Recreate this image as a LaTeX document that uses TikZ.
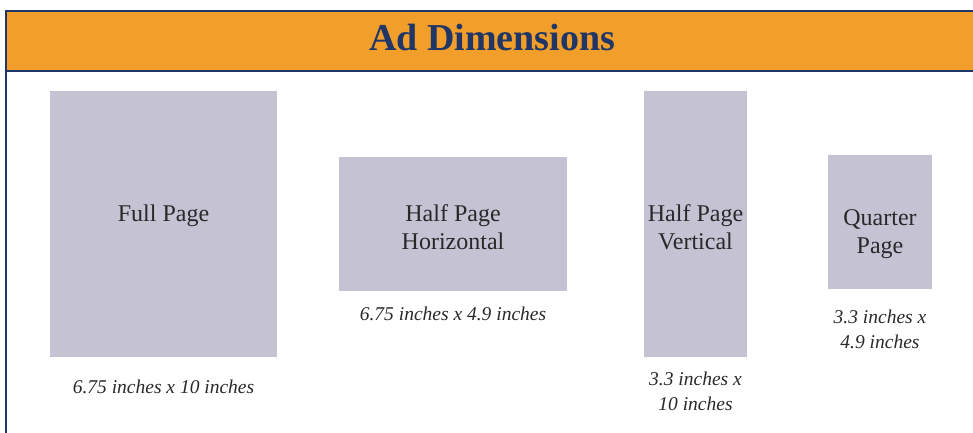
\documentclass[tikz,border=0pt]{standalone}
\usepackage{fontspec}
\setmainfont{Liberation Serif}
\usetikzlibrary{positioning}
\definecolor{AdOrange}{HTML}{F29E2B}
\definecolor{AdNavy}{HTML}{1F3667}
\definecolor{AdGray}{HTML}{C4C2D3}
\definecolor{AdInk}{HTML}{2A2829}
\tikzset{
  adbox/.style={fill=AdGray,inner sep=0pt},
  adname/.style={inner sep=0pt,align=center,text=AdInk,font=\fontsize{24}{28.5}\selectfont},
  adsize/.style={inner sep=0pt,align=center,text=AdInk,font=\fontsize{19.5}{25}\selectfont\itshape},
}
\begin{document}
\begin{tikzpicture}[x=1pt,y=-1pt]
  \useasboundingbox (0,0) rectangle (973,433);
  % header band and frame
  \fill[AdOrange] (6,11) rectangle (980,71);
  \draw[AdNavy,line width=2.5pt] (980,11) -- (6,11) -- (6,440);
  \draw[AdNavy,line width=2.5pt] (6,71) -- (980,71);
  \node[text=AdNavy,font=\fontsize{38}{40}\selectfont\bfseries] (title) at (492,38) {Ad Dimensions};
  % ad boxes
  \node[adbox,minimum width=227pt,minimum height=266pt,label={[adname,yshift=8pt]center:Full Page}] (full) at (163.5,224) {};
  \node[adbox,minimum width=228pt,minimum height=134pt,label={[adname,yshift=-3pt]center:{Half Page\\Horizontal}}] (halfh) at (453,224) {};
  \node[adbox,minimum width=103pt,minimum height=266pt,label={[adname,yshift=-3pt]center:{Half Page\\Vertical}}] (halfv) at (695.5,224) {};
  \node[adbox,minimum width=104pt,minimum height=134pt,label={[adname,yshift=-12pt]center:{Quarter\\Page}}] (quarter) at (880,222) {};
  % sizes
  \node[adsize,below=23pt of full] (fullsz) {6.75 inches x 10 inches};
  \node[adsize,below=16pt of halfh] (halfhsz) {6.75 inches x 4.9 inches};
  \node[adsize,below=15pt of halfv] (halfvsz) {3.3 inches x\\10 inches};
  \node[adsize,below=21pt of quarter] (quartersz) {3.3 inches x\\4.9 inches};
\end{tikzpicture}
\end{document}
